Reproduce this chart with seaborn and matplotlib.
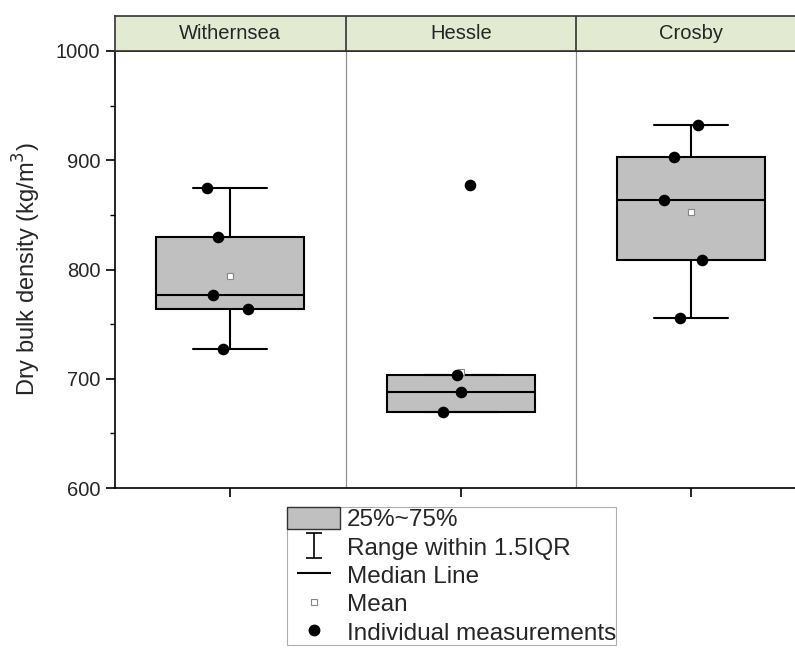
import numpy as np
import pandas as pd
import matplotlib
matplotlib.use('Agg')
import matplotlib.pyplot as plt
from matplotlib.patches import Patch
from matplotlib.lines import Line2D
from matplotlib.path import Path
import seaborn as sns

# values
sites = ['Withernsea', 'Hessle', 'Crosby']
withernsea = [875, 830, 777, 764, 727]
hessle = [877, 703, 688, 670]
crosby = [932, 903, 864, 809, 756]
# horizontal jitter of the dots (category units), as seen in the picture
withernsea_dx = [-0.10, -0.052, -0.074, 0.078, -0.03]
hessle_dx = [0.04, -0.017, 0.0, -0.078]
crosby_dx = [0.03, -0.074, -0.12, 0.045, -0.047]

# box statistics as drawn
q1 = [764, 670, 809]
med = [777, 688, 864]
q3 = [830, 703, 903]
whislo = [727, 670, 756]
whishi = [875, 703, 932]
means = [794, 706, 853]

sns.set_style('ticks')
plt.rcParams['font.family'] = ['Liberation Sans', 'DejaVu Sans']

rows = []
for i, (vals, dxs) in enumerate([(withernsea, withernsea_dx), (hessle, hessle_dx), (crosby, crosby_dx)]):
    for v, d in zip(vals, dxs):
        rows.append({'site': sites[i], 'pos': i + d, 'density': v})
df = pd.DataFrame(rows)

fig = plt.figure(figsize=(7.95, 6.48), dpi=100)
ax = fig.add_axes([115/795, 1-488/648, 691.5/795, 437/648])
axh = fig.add_axes([115/795, 1-51/648, 691.5/795, 35/648])

stats = []
for i in range(3):
    stats.append({'q1': q1[i], 'med': med[i], 'q3': q3[i], 'whislo': whislo[i],
                  'whishi': whishi[i], 'mean': means[i], 'fliers': []})
ax.bxp(stats, positions=range(3), widths=0.64, patch_artist=True, showmeans=True,
       boxprops=dict(facecolor='#C0C0C0', edgecolor='black', linewidth=1.5),
       medianprops=dict(color='black', linewidth=1.5),
       whiskerprops=dict(color='black', linewidth=1.5),
       capprops=dict(color='black', linewidth=1.5),
       meanprops=dict(marker='s', markerfacecolor='white', markeredgecolor='#888888',
                      markersize=4, markeredgewidth=0.8))

sns.scatterplot(data=df, x='pos', y='density', ax=ax, color='black', s=70,
                edgecolor='black', linewidth=0, zorder=5, legend=False)

for xv in [0.5, 1.5]:
    ax.axvline(xv, color='#909090', lw=0.9, zorder=0)

ax.set_xlim(-0.5, 2.5)
ax.set_ylim(600, 1000)
ax.set_xticks(range(3))
ax.set_xticklabels([])
ax.set_yticks([600, 700, 800, 900, 1000])
ax.set_yticks(np.arange(650, 1000, 100), minor=True)
ax.tick_params(axis='both', which='major', direction='out', length=6.5, width=1.2,
               color='black', labelsize=14.5, pad=4)
ax.tick_params(axis='y', which='minor', direction='out', length=3.5, width=1.0, color='black')
ax.set_xlabel('')
ax.set_ylabel('Dry bulk density (kg/m$^3$)', fontsize=17, labelpad=9)
for s in ax.spines.values():
    s.set_color('black')
    s.set_linewidth(1.2)

# header strip
axh.set_facecolor('#E2EBD2')
axh.set_xlim(-0.5, 2.5)
axh.set_ylim(0, 1)
axh.set_xticks([])
axh.set_yticks([])
for xv in [0.5, 1.5]:
    axh.axvline(xv, color='#333333', lw=1.2)
for i, name in enumerate(sites):
    axh.text(i, 0.5, name, ha='center', va='center', fontsize=14.5)
for s in axh.spines.values():
    s.set_color('#333333')
    s.set_linewidth(1.2)

ibeam = Path([(-0.65, -1), (0.65, -1), (0, -1), (0, 1), (-0.65, 1), (0.65, 1)],
             [Path.MOVETO, Path.LINETO, Path.MOVETO, Path.LINETO, Path.MOVETO, Path.LINETO])
handles = [
    Patch(facecolor='#C0C0C0', edgecolor='#333333', linewidth=1.0),
    Line2D([], [], color='black', marker=ibeam, markersize=18, linestyle='none', markeredgewidth=1.2),
    Line2D([], [], color='black', marker='_', markersize=24, linestyle='none', markeredgewidth=1.5),
    Line2D([], [], marker='s', markerfacecolor='white', markeredgecolor='#888888',
           markersize=4, markeredgewidth=0.8, linestyle='none'),
    Line2D([], [], marker='o', color='black', markersize=7.5, linestyle='none'),
]
labels = ['25%~75%', 'Range within 1.5IQR', 'Median Line', 'Mean', 'Individual measurements']
leg = fig.legend(handles, labels, loc='upper left', bbox_to_anchor=(287/795, 1-507/648),
                 frameon=True, fancybox=False, edgecolor='#999999', fontsize=17.5,
                 handlelength=2.2, handleheight=1.0, labelspacing=0.17, borderpad=0.0,
                 handletextpad=0.25, borderaxespad=0)
leg.get_frame().set_linewidth(0.8)

fig.savefig('out.png', dpi=100)
